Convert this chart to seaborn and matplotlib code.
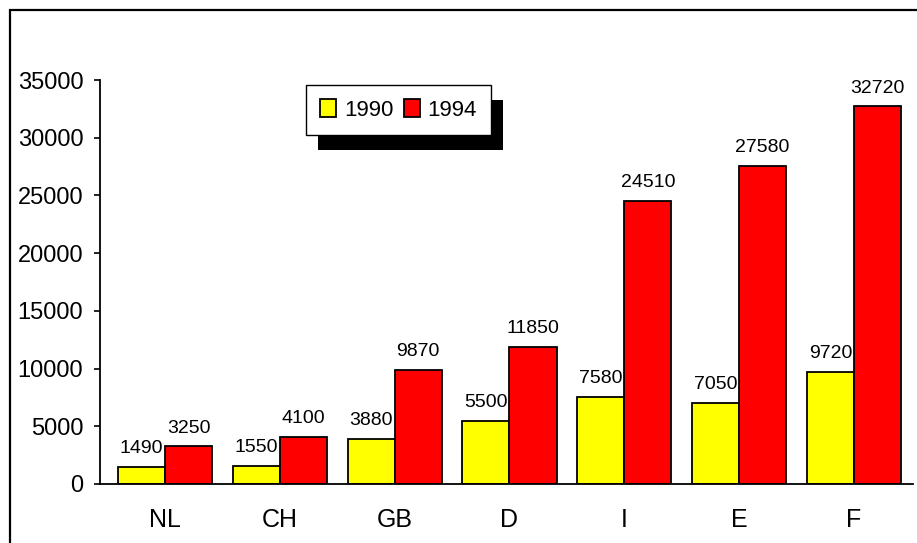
import matplotlib
matplotlib.use("Agg")
import matplotlib.pyplot as plt
from matplotlib.patches import Rectangle
import pandas as pd
import seaborn as sns

countries = ["NL", "CH", "GB", "D", "I", "E", "F"]
years = ["1990", "1994"]
values_1990 = [1490, 1550, 3880, 5500, 7580, 7050, 9720]
values_1994 = [3250, 4100, 9870, 11850, 24510, 27580, 32720]
y_ticks = [0, 5000, 10000, 15000, 20000, 25000, 30000, 35000]

df = pd.DataFrame({
    "country": countries * 2,
    "year": [years[0]] * len(countries) + [years[1]] * len(countries),
    "value": values_1990 + values_1994,
})

sns.set_style("white")
plt.rcParams["font.family"] = ["Liberation Sans", "DejaVu Sans"]
plt.rcParams["text.color"] = "black"
plt.rcParams["xtick.color"] = "black"
plt.rcParams["ytick.color"] = "black"

fig = plt.figure(figsize=(9.17, 5.43), dpi=100)
ax = fig.add_axes([100 / 917, 59 / 543, 813 / 917, 404 / 543])

sns.barplot(data=df, x="country", y="value", hue="year", order=countries,
            hue_order=years, palette={"1990": "#ffff00", "1994": "#ff0000"},
            width=0.82, gap=0, edgecolor="black", linewidth=1.3,
            saturation=1, errorbar=None, ax=ax)

for cont in ax.containers:
    ax.bar_label(cont, fmt="%d", padding=7, fontsize=14, color="black")

ax.set_xlim(-0.566, 6.514)
ax.set_ylim(0, 35000)
ax.set_yticks(y_ticks)
ax.set_xlabel("")
ax.set_ylabel("")
ax.tick_params(axis="y", direction="out", length=4, width=1.2, pad=8,
               labelsize=17, left=True)
ax.tick_params(axis="x", length=0, pad=17, labelsize=18)
for s in ["top", "right"]:
    ax.spines[s].set_visible(False)
for s in ["left", "bottom"]:
    ax.spines[s].set_color("black")
    ax.spines[s].set_linewidth(1.3)

leg = ax.legend(loc="upper left", bbox_to_anchor=(306 / 917, 458 / 543),
                bbox_transform=fig.transFigure, ncol=2, frameon=True,
                fancybox=False, edgecolor="black", facecolor="white",
                framealpha=1, fontsize=16,
                handlelength=0.7, handleheight=0.85, handletextpad=0.35,
                columnspacing=0.5, borderpad=0.65, borderaxespad=0)
leg.get_frame().set_linewidth(1.0)
leg.set_zorder(6)

# drop shadow behind the legend box
fig.canvas.draw()
bb = leg.get_window_extent()
shadow = Rectangle((bb.x0 + 12, bb.y0 - 15), bb.width, bb.height,
                   transform=None, facecolor="black", edgecolor="none",
                   zorder=5.5, clip_on=False)
ax.add_patch(shadow)

# outer frame around the chart (open on the right and bottom edges)
frame = Rectangle((10 / 917, -0.05), 1.0, (533 / 543) + 0.05,
                  transform=fig.transFigure, fill=False, edgecolor="black",
                  linewidth=1.6)
fig.patches.append(frame)

fig.savefig("out.png", dpi=100)
